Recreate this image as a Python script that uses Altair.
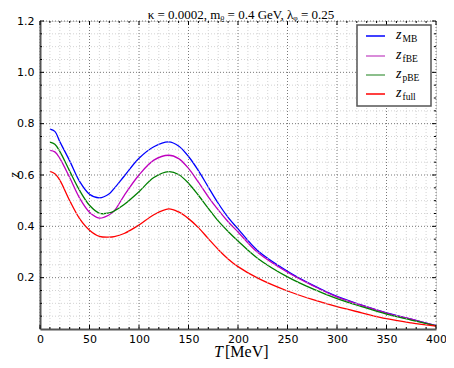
import altair as alt
import pandas as pd

T = [10, 15, 20, 30, 40, 50, 60, 70, 75, 85, 100, 115, 130, 140, 150, 160, 170, 180,
     190, 200, 220, 250, 275, 300, 325, 350, 375, 400]
z_MB = [0.779, 0.770, 0.730, 0.655, 0.575, 0.525, 0.511, 0.527, 0.548, 0.595, 0.665,
        0.710, 0.729, 0.713, 0.672, 0.617, 0.553, 0.490, 0.435, 0.390, 0.305, 0.225,
        0.172, 0.127, 0.093, 0.063, 0.038, 0.013]
z_fBE = [0.696, 0.690, 0.665, 0.590, 0.510, 0.455, 0.432, 0.445, 0.460, 0.520, 0.600,
         0.658, 0.677, 0.664, 0.626, 0.572, 0.515, 0.464, 0.418, 0.378, 0.298, 0.221,
         0.170, 0.125, 0.092, 0.062, 0.038, 0.013]
z_pBE = [0.728, 0.720, 0.692, 0.615, 0.540, 0.482, 0.451, 0.452, 0.460, 0.485, 0.535,
         0.590, 0.613, 0.602, 0.568, 0.521, 0.470, 0.421, 0.380, 0.343, 0.275, 0.203,
         0.157, 0.118, 0.087, 0.058, 0.035, 0.012]
z_full = [0.614, 0.605, 0.580, 0.500, 0.430, 0.385, 0.361, 0.358, 0.360, 0.372, 0.405,
          0.445, 0.468, 0.456, 0.430, 0.395, 0.352, 0.310, 0.273, 0.243, 0.198, 0.148,
          0.115, 0.087, 0.063, 0.040, 0.024, 0.011]

series_names = ["MB", "fBE", "pBE", "full"]
series_values = [z_MB, z_fBE, z_pBE, z_full]
series_colors = ["#0000ff", "#bf00bf", "#008000", "#ff0000"]
legend_colors = ["#0000ff", "#cc66cc", "#66aa66", "#ff0000"]

x_major = [0, 50, 100, 150, 200, 250, 300, 350, 400]
x_minor = [v for v in range(0, 401, 10) if v % 50 != 0]
y_major = [0.2, 0.4, 0.6, 0.8, 1.0, 1.2]
y_minor = [round(0.05 * i, 2) for i in range(1, 24) if i % 4 != 0]

title_text = "κ = 0.0002,  mᵨ = 0.4 GeV,  λᵩ = 0.25"

W, H = 396, 308

rows = []
for name, vals in zip(series_names, series_values):
    for t, v in zip(T, vals):
        rows.append({"T": t, "z": v, "series": name})
df = pd.DataFrame(rows)

xs = alt.Scale(domain=[0, 400], nice=False, zero=False)
ys = alt.Scale(domain=[0, 1.2], nice=False, zero=False)

one = pd.DataFrame({"a": [0]})

base_x = alt.X("T:Q", scale=xs,
               axis=alt.Axis(values=x_major, format="d", title=None, ticks=False,
                             grid=False, labelFont="DejaVu Sans", labelFontSize=11,
                             labelColor="black", labelPadding=4, labelFlush=False,
                             domainColor="#555", domainWidth=2))
base_y = alt.Y("z:Q", scale=ys,
               axis=alt.Axis(values=y_major, format=".1f", title=None, ticks=False,
                             grid=False, labelFont="DejaVu Sans", labelFontSize=11,
                             labelColor="black", labelPadding=6, labelFlush=False,
                             domainColor="#555", domainWidth=2))

layers = []

# minor grid
layers.append(alt.Chart(pd.DataFrame({"T": x_minor})).mark_rule(
    color="#c8c8c8", strokeDash=[1, 2], strokeWidth=0.8).encode(
    x=alt.X("T:Q", scale=xs), y=alt.value(0), y2=alt.value(H)))
layers.append(alt.Chart(pd.DataFrame({"z": y_minor})).mark_rule(
    color="#c8c8c8", strokeDash=[1, 2], strokeWidth=0.8).encode(
    y=alt.Y("z:Q", scale=ys), x=alt.value(0), x2=alt.value(W)))
# major grid
layers.append(alt.Chart(pd.DataFrame({"T": x_major})).mark_rule(
    color="#555", strokeDash=[1, 2], strokeWidth=0.8).encode(
    x=alt.X("T:Q", scale=xs), y=alt.value(0), y2=alt.value(H)))
layers.append(alt.Chart(pd.DataFrame({"z": y_major})).mark_rule(
    color="#555", strokeDash=[1, 2], strokeWidth=0.8).encode(
    y=alt.Y("z:Q", scale=ys), x=alt.value(0), x2=alt.value(W)))

# inward ticks
for vals, ln in ((x_major, 4), (x_minor, 2)):
    d = pd.DataFrame({"T": vals})
    layers.append(alt.Chart(d).mark_rule(color="black", strokeWidth=1).encode(
        x=alt.X("T:Q", scale=xs), y=alt.value(H), y2=alt.value(H - ln)))
    layers.append(alt.Chart(d).mark_rule(color="black", strokeWidth=1).encode(
        x=alt.X("T:Q", scale=xs), y=alt.value(0), y2=alt.value(ln)))
for vals, ln in ((y_major, 4), (y_minor, 2)):
    d = pd.DataFrame({"z": vals})
    layers.append(alt.Chart(d).mark_rule(color="black", strokeWidth=1).encode(
        y=alt.Y("z:Q", scale=ys), x=alt.value(0), x2=alt.value(ln)))
    layers.append(alt.Chart(d).mark_rule(color="black", strokeWidth=1).encode(
        y=alt.Y("z:Q", scale=ys), x=alt.value(W), x2=alt.value(W - ln)))

# data lines
lines = alt.Chart(df).mark_line(strokeWidth=1.3, interpolate="catmull-rom").encode(
    x=base_x, y=base_y,
    color=alt.Color("series:N", scale=alt.Scale(domain=series_names, range=series_colors),
                    legend=None),
    detail="series:N")
layers.insert(0, lines)

# legend box
LX = W - 79
layers.append(alt.Chart(one).mark_rect(fill="white", stroke="#555", strokeWidth=1.5).encode(
    x=alt.value(LX), x2=alt.value(LX + 74), y=alt.value(4), y2=alt.value(85)))
leg_y = [15, 35, 54, 73]
for name, col, yy in zip(series_names, legend_colors, leg_y):
    layers.append(alt.Chart(one).mark_rule(color=col, strokeWidth=1.5).encode(
        x=alt.value(LX + 9), x2=alt.value(LX + 28), y=alt.value(yy)))
    layers.append(alt.Chart(one).mark_text(
        text="z", font="Liberation Serif", fontStyle="italic", fontSize=14,
        align="left", baseline="alphabetic", color="black").encode(
        x=alt.value(LX + 39), y=alt.value(yy + 3)))
    layers.append(alt.Chart(one).mark_text(
        text=name, font="Liberation Serif", fontSize=9.5,
        align="left", baseline="alphabetic", color="black").encode(
        x=alt.value(LX + 45.5), y=alt.value(yy + 6)))

# chart title
layers.append(alt.Chart(one).mark_text(
    text=title_text, font="Liberation Serif", fontSize=13,
    align="center", baseline="alphabetic", color="black").encode(
    x=alt.value(W / 2 + 3), y=alt.value(-2)))

# y-axis title
layers.append(alt.Chart(one).mark_text(
    text="z", font="Liberation Serif", fontStyle="italic", fontSize=14, angle=270,
    align="center", baseline="middle", color="black").encode(
    x=alt.value(-25), y=alt.value(H / 2)))

# x-axis title
layers.append(alt.Chart(one).mark_text(
    text="T", font="Liberation Serif", fontStyle="italic", fontSize=16,
    align="right", baseline="alphabetic", color="black").encode(
    x=alt.value(W / 2 - 15), y=alt.value(H + 28)))
layers.append(alt.Chart(one).mark_text(
    text="[MeV]", font="Liberation Serif", fontSize=16,
    align="left", baseline="alphabetic", color="black").encode(
    x=alt.value(W / 2 - 13), y=alt.value(H + 28)))

chart = alt.layer(*layers).properties(
    width=W, height=H,
    autosize=alt.AutoSizeParams(type="none"),
    padding={"left": 32, "top": 13, "right": 10, "bottom": 31},
).configure_view(stroke="black", strokeWidth=1).configure(background="white")

chart.save("out.html", embed_options={"renderer": "svg", "actions": False})
